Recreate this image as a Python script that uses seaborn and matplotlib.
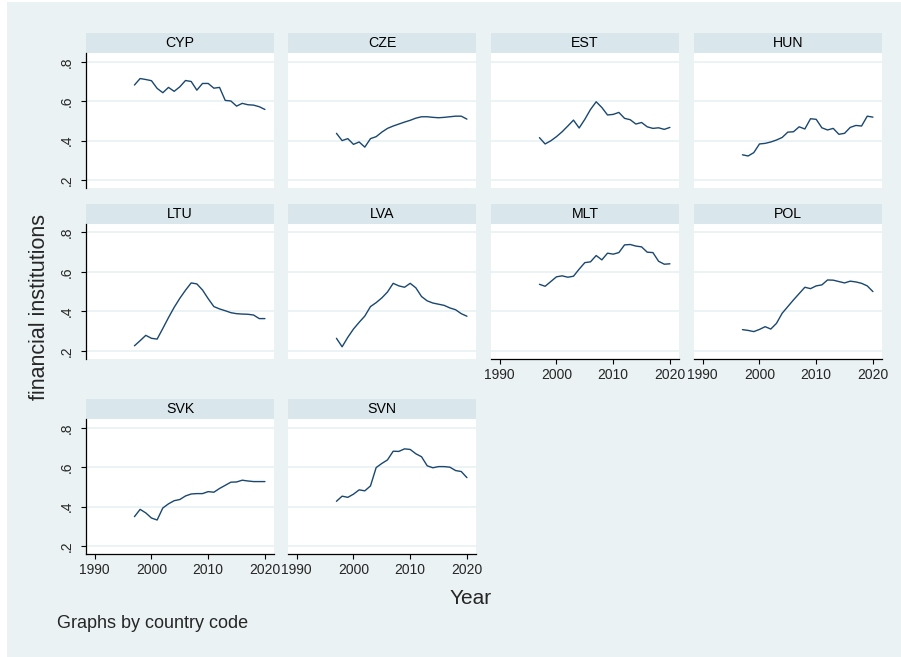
import numpy as np
import pandas as pd
import matplotlib
matplotlib.use("Agg")
import matplotlib.pyplot as plt
import seaborn as sns
from matplotlib.patches import Rectangle

# ---------------- data ----------------
years = list(range(1997, 2021))
countries = ["CYP", "CZE", "EST", "HUN", "LTU", "LVA", "MLT", "POL", "SVK", "SVN"]

cyp = [0.682, 0.715, 0.710, 0.704, 0.665, 0.643, 0.670, 0.650, 0.673, 0.705, 0.700, 0.656,
       0.690, 0.690, 0.666, 0.670, 0.604, 0.601, 0.575, 0.589, 0.582, 0.580, 0.572, 0.558]
cze = [0.437, 0.400, 0.410, 0.381, 0.393, 0.367, 0.410, 0.420, 0.443, 0.462, 0.474, 0.484,
       0.494, 0.503, 0.514, 0.521, 0.521, 0.518, 0.516, 0.518, 0.521, 0.524, 0.524, 0.509]
est = [0.415, 0.383, 0.399, 0.420, 0.445, 0.474, 0.504, 0.464, 0.508, 0.558, 0.597, 0.568,
       0.530, 0.533, 0.543, 0.513, 0.506, 0.484, 0.492, 0.470, 0.462, 0.465, 0.457, 0.467]
hun = [0.328, 0.322, 0.339, 0.383, 0.386, 0.393, 0.403, 0.416, 0.443, 0.445, 0.470, 0.459,
       0.511, 0.508, 0.465, 0.454, 0.462, 0.432, 0.437, 0.467, 0.477, 0.474, 0.524, 0.519]
ltu = [0.225, 0.251, 0.278, 0.263, 0.259, 0.313, 0.368, 0.420, 0.466, 0.507, 0.544, 0.539,
       0.508, 0.464, 0.424, 0.412, 0.403, 0.393, 0.388, 0.386, 0.385, 0.381, 0.363, 0.363]
lva = [0.263, 0.220, 0.268, 0.310, 0.344, 0.376, 0.424, 0.444, 0.468, 0.498, 0.542, 0.529,
       0.522, 0.542, 0.519, 0.475, 0.453, 0.442, 0.436, 0.430, 0.417, 0.408, 0.388, 0.375]
mlt = [0.537, 0.527, 0.551, 0.575, 0.580, 0.573, 0.578, 0.614, 0.647, 0.651, 0.683, 0.661,
       0.695, 0.690, 0.698, 0.737, 0.739, 0.731, 0.727, 0.700, 0.698, 0.654, 0.639, 0.641]
pol = [0.307, 0.303, 0.297, 0.308, 0.322, 0.310, 0.339, 0.390, 0.424, 0.458, 0.490, 0.522,
       0.515, 0.529, 0.534, 0.559, 0.558, 0.551, 0.544, 0.553, 0.549, 0.542, 0.529, 0.500]
svk = [0.349, 0.386, 0.368, 0.342, 0.332, 0.393, 0.414, 0.430, 0.436, 0.454, 0.464, 0.466,
       0.466, 0.476, 0.473, 0.492, 0.508, 0.524, 0.525, 0.534, 0.530, 0.527, 0.527, 0.527]
svn = [0.427, 0.453, 0.447, 0.463, 0.485, 0.480, 0.505, 0.598, 0.619, 0.637, 0.681, 0.680,
       0.693, 0.690, 0.668, 0.653, 0.607, 0.597, 0.603, 0.603, 0.600, 0.583, 0.578, 0.547]

series = [cyp, cze, est, hun, ltu, lva, mlt, pol, svk, svn]
x_ticks = [1990, 2000, 2010, 2020]
y_ticks = [0.2, 0.4, 0.6, 0.8]
y_tick_labels = [".2", ".4", ".6", ".8"]

df = pd.DataFrame({
    "country": np.repeat(countries, len(years)),
    "year": years * len(countries),
    "value": np.concatenate(series),
})

# ---------------- style ----------------
sns.set_style("white")
plt.rcParams["font.family"] = ["Liberation Sans", "DejaVu Sans"]

BG = "#eaf2f3"
STRIP = "#d9e6eb"
LINE = "#1a476f"

W, H = 901, 657
fig = plt.figure(figsize=(W / 100, H / 100), dpi=100)
fig.patch.set_facecolor("white")
fig.patches.append(Rectangle((7 / W, 0), 1 - 7 / W, 1 - 2 / H, transform=fig.transFigure,
                             facecolor=BG, edgecolor="none", zorder=-10))

col_x = [86, 288, 491, 694]
row_top = [53.3, 224.0, 419.3]
pw, ph, hh = 188, 135, 20

for i, name in enumerate(countries):
    r, c = divmod(i, 4)
    x0, top = col_x[c], row_top[r]
    ax = fig.add_axes([x0 / W, 1 - (top + ph) / H, pw / W, ph / H])
    ax.set_facecolor("white")
    sns.lineplot(data=df[df["country"] == name], x="year", y="value", ax=ax,
                 color=LINE, linewidth=1.0, legend=False)
    ax.set_xlim(1988.46, 2021.6)
    ax.set_ylim(0.158, 0.843)
    ax.set_xticks(x_ticks)
    ax.set_xticklabels([str(t) for t in x_ticks])
    ax.set_yticks(y_ticks)
    ax.set_yticklabels(y_tick_labels)
    ax.set_xlabel("")
    ax.set_ylabel("")
    ax.yaxis.grid(True, color=BG, linewidth=1.3)
    ax.xaxis.grid(False)
    ax.set_axisbelow(True)
    for s in ax.spines.values():
        s.set_visible(False)
    show_left = (c == 0)
    show_bottom = (i >= 6)
    if show_left:
        ax.spines["left"].set_visible(True)
        ax.spines["left"].set_color("black")
        ax.spines["left"].set_linewidth(0.9)
        ax.tick_params(axis="y", left=True, labelleft=True, length=3.6, width=0.8,
                       color="black", pad=5, labelsize=10)
        for lab in ax.get_yticklabels():
            lab.set_rotation(90)
            lab.set_va("center")
            lab.set_ha("right")
    else:
        ax.tick_params(axis="y", left=False, labelleft=False)
    if show_bottom:
        ax.spines["bottom"].set_visible(True)
        ax.spines["bottom"].set_color("black")
        ax.spines["bottom"].set_linewidth(0.9)
        ax.tick_params(axis="x", bottom=True, labelbottom=True, length=3.6, width=0.8,
                       color="black", pad=3, labelsize=10)
    else:
        ax.tick_params(axis="x", bottom=False, labelbottom=False)

    # strip header
    fig.patches.append(Rectangle((x0 / W, 1 - top / H), pw / W, hh / H,
                                 transform=fig.transFigure, facecolor=STRIP,
                                 edgecolor="none", zorder=-5))
    fig.text((x0 + pw / 2) / W, 1 - (top - hh / 2) / H, name, ha="center", va="center",
             fontsize=10.2, color="black")

fig.text(471 / W, 1 - 598 / H, "Year", ha="center", va="center", fontsize=15)
fig.text(40 / W, 1 - 307 / H, "financial institutions", ha="center", va="center",
         rotation=90, fontsize=15.5)
fig.text(57 / W, 1 - 624 / H, "Graphs by country code", ha="left", va="center", fontsize=13)

fig.savefig("out.png", dpi=100, facecolor=fig.get_facecolor())
